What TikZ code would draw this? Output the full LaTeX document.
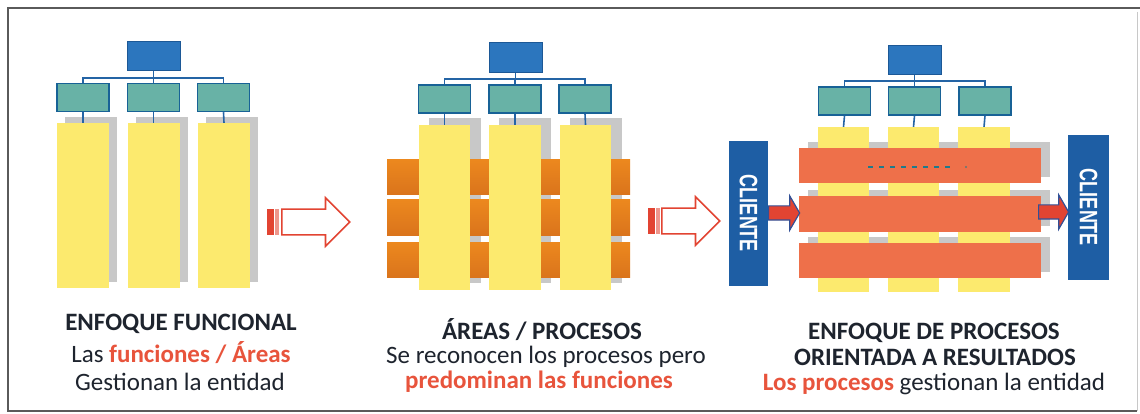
\documentclass[tikz,border=0pt]{standalone}
\usepackage{fontspec}
\setmainfont{Carlito}
\newfontfamily\clientefont{Liberation Sans}
\usetikzlibrary{shapes.arrows}
\definecolor{topblue}{RGB}{44,118,190}
\definecolor{topedge}{RGB}{28,88,150}
\definecolor{tealc}{RGB}{104,178,166}
\definecolor{midedge}{RGB}{24,98,150}
\definecolor{orgc}{RGB}{36,100,165}
\definecolor{yellowc}{RGB}{252,234,110}
\definecolor{shadowc}{RGB}{200,200,200}
\definecolor{orangetop}{RGB}{236,136,30}
\definecolor{orangemid}{RGB}{248,170,56}
\definecolor{orangebot}{RGB}{218,116,28}
\definecolor{redbar}{RGB}{238,112,74}
\definecolor{clientc}{RGB}{30,94,164}
\definecolor{arrowred}{RGB}{226,68,50}
\definecolor{arrowpink}{RGB}{238,150,140}
\definecolor{arrowblue}{RGB}{50,80,150}
\definecolor{dotc}{RGB}{30,122,140}
\definecolor{txtc}{RGB}{30,36,46}
\definecolor{hlred}{RGB}{232,84,60}
\definecolor{framec}{RGB}{90,90,90}
\begin{document}
\begin{tikzpicture}[x=1pt,y=-1pt,
  topbox/.style={draw=topedge, fill=topblue, line width=1pt, minimum width=53pt, minimum height=29pt, inner sep=0pt},
  midbox/.style={draw=midedge, fill=tealc, line width=1.5pt, minimum width=52pt, minimum height=28pt, inner sep=0pt},
  orgline/.style={draw=orgc, line width=1.6pt},
  colbox/.style={fill=yellowc, minimum width=52pt, minimum height=165pt, inner sep=0pt},
  shadowbox/.style={fill=shadowc, minimum width=52pt, minimum height=165pt, inner sep=0pt},
  obar/.style={top color=orangetop, middle color=orangemid, bottom color=orangebot, minimum width=243pt, minimum height=35pt, inner sep=0pt},
  rbar/.style={fill=redbar, minimum width=242pt, minimum height=35pt, inner sep=0pt},
  rbarshadow/.style={fill=shadowc, minimum width=242pt, minimum height=35pt, inner sep=0pt},
  client/.style={fill=clientc, rotate=-90, minimum width=145pt, minimum height=40pt, inner sep=0pt, text=white, font=\clientefont\bfseries\fontsize{18}{18}\selectfont},
  bigarrow/.style={single arrow, draw=arrowred, line width=1.6pt, fill=white, anchor=tail, minimum height=68pt, single arrow head extend=11.5pt, inner xsep=0pt, inner ysep=12pt},
  stripe/.style={inner sep=0pt, minimum height=25pt},
  smallarrow/.style={single arrow, fill=arrowred, draw=arrowblue, line width=1.2pt, anchor=tail, minimum height=31pt, inner xsep=0pt, inner ysep=6.5pt, single arrow head extend=10pt, single arrow tip angle=120},
  txt/.style={anchor=base, inner sep=0pt, text=txtc, font=\fontsize{25}{30}\selectfont}
]
\useasboundingbox (0,0) rectangle (1140,414);
\fill[white] (0,0) rectangle (1140,414);
\draw[framec, line width=1.2pt] (1140,8) -- (8,8) -- (8,411) -- (1137,411);
\draw[shadowc, line width=0.8pt] (1137,12) -- (1137,411);

% ---------- Left: functional ----------
\node[shadowbox] (ls1) at (91,199.5) {};
\node[shadowbox] (ls2) at (161.5,199.5) {};
\node[shadowbox] (ls3) at (232,199.5) {};
\node[colbox] (lc1) at (83,205.5) {};
\node[colbox] (lc2) at (153.5,205.5) {};
\node[colbox] (lc3) at (224,205.5) {};
\node[topbox] (lt) at (153.5,56.5) {};
\node[midbox] (lm1) at (83,97.5) {};
\node[midbox] (lm2) at (153.5,97.5) {};
\node[midbox] (lm3) at (223.5,97.5) {};
\coordinate (lbar) at (0,78);
\draw[orgline] (lt.south) -- (lt.south |- lbar);
\draw[orgline] (lm1.north) -- (lm1.north |- lbar) -- (lm3.north |- lbar) -- (lm3.north);
\draw[orgline] (lm2.north) -- (lm2.north |- lbar);
\draw[orgline] (lm1.south) -- (lc1.north);
\draw[orgline] (lm2.south) -- (lc2.north);
\draw[orgline] (lm3.south) -- (lc3.north);

% arrow 1
\node[stripe, fill=arrowred, minimum width=7pt] (a1s1) at (270.5,222) {};
\node[stripe, fill=arrowpink, minimum width=4pt] (a1s2) at (277,222) {};
\node[bigarrow] (a1) at (281,222) {};

% ---------- Middle: areas / processes ----------
\node[shadowbox] (ms1) at (454.5,200.5) {};
\node[shadowbox] (ms2) at (525,200.5) {};
\node[shadowbox] (ms3) at (595.5,200.5) {};
\node[obar] (mb1) at (508.5,177) {};
\node[obar] (mb2) at (508.5,217.5) {};
\node[obar] (mb3) at (508.5,260) {};
\node[colbox, minimum width=51pt] (mc1) at (444.5,207.5) {};
\node[colbox] (mc2) at (515,207.5) {};
\node[colbox, minimum width=51pt] (mc3) at (585.5,207.5) {};
\node[topbox, minimum height=30pt] (mt) at (515.5,58) {};
\node[midbox] (mm1) at (444.5,99) {};
\node[midbox] (mm2) at (515,99) {};
\node[midbox] (mm3) at (585,99) {};
\coordinate (mbar) at (0,79);
\draw[orgline] (mt.south) -- (mt.south |- mbar);
\draw[orgline] (mm1.north) -- (mm1.north |- mbar) -- (mm3.north |- mbar) -- (mm3.north);
\draw[orgline] (mm2.north) -- (mm2.north |- mbar);
\draw[orgline] (mm1.south) -- (mc1.north);
\draw[orgline] (mm2.south) -- (mc2.north);
\draw[orgline] (mm3.south) -- (mc3.north);

% arrow 2
\node[stripe, fill=arrowred, minimum width=7pt] (a2s1) at (651.5,221) {};
\node[stripe, fill=arrowpink, minimum width=4pt] (a2s2) at (658,221) {};
\node[bigarrow, minimum height=58pt] (a2) at (661,221) {};

% ---------- Right: process approach ----------
\node[rbarshadow] (rbs1) at (929,159.5) {};
\node[rbarshadow] (rbs2) at (929,208) {};
\node[rbarshadow] (rbs3) at (929,254.5) {};
\node[colbox, minimum width=51pt] (rc1) at (843.5,209.5) {};
\node[colbox, minimum width=51pt] (rc2) at (913.5,209.5) {};
\node[colbox] (rc3) at (984,209.5) {};
\node[rbar] (rb1) at (920,165.5) {};
\node[rbar, minimum height=36pt] (rb2) at (920,214) {};
\node[rbar] (rb3) at (920,260.5) {};
\draw[dotc, line width=2.6pt, dash pattern=on 5pt off 6pt] (868,167) -- (950,167);
\fill[dotc!70!redbar] (966,167) circle (1.2pt);
\node[topbox] (rt) at (914.5,60.5) {};
\node[midbox] (rm1) at (844.5,101) {};
\node[midbox] (rm2) at (914.5,101) {};
\node[midbox] (rm3) at (985,101) {};
\coordinate (rbar) at (0,81);
\draw[orgline] (rt.south) -- (rt.south |- rbar);
\draw[orgline] (rm1.north) -- (rm1.north |- rbar) -- (rm3.north |- rbar) -- (rm3.north);
\draw[orgline] (rm2.north) -- (rm2.north |- rbar);
\draw[orgline] (rm1.south) -- (rc1.north);
\draw[orgline] (rm2.south) -- (rc2.north);
\draw[orgline] (rm3.south) -- (rc3.north);

\node[client, minimum height=39pt] (cl) at (748.5,213.5) {\scalebox{1}[1.4]{CLIENTE}};
\node[client, minimum height=41pt] (cr) at (1088.5,207.5) {\scalebox{1}[1.4]{CLIENTE}};
\node[smallarrow] (sal) at (768,213) {};
\node[smallarrow, minimum height=30pt] (sar) at (1038,212) {};

% ---------- Captions ----------
\node[txt] (ltx1) at (181,330) {\textbf{ENFOQUE FUNCIONAL}};
\node[txt] (ltx2) at (181,362) {Las \textcolor{hlred}{\textbf{funciones / Áreas}}};
\node[txt] (ltx3) at (180,390) {Gestionan la entidad};

\node[txt] (mtx1) at (542,339) {\textbf{ÁREAS / PROCESOS}};
\node[txt] (mtx2) at (546,363) {Se reconocen los procesos pero};
\node[txt] (mtx3) at (539,388) {\textcolor{hlred}{\textbf{predominan las funciones}}};

\node[txt] (rtx1) at (934,339) {\textbf{ENFOQUE DE PROCESOS}};
\node[txt] (rtx2) at (935,365) {\textbf{ORIENTADA A RESULTADOS}};
\node[txt] (rtx3) at (934,390) {\textcolor{hlred}{\textbf{Los procesos}} gestionan la entidad};
\end{tikzpicture}
\end{document}
